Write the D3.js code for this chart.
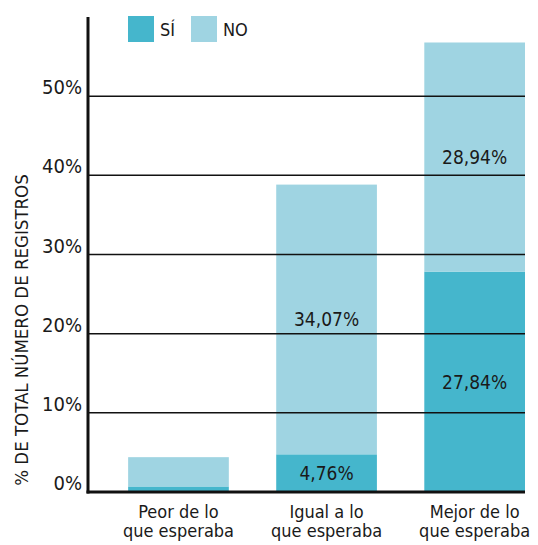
<!DOCTYPE html>
<html>
<head>
<meta charset="utf-8">
<script src="https://cdn.jsdelivr.net/npm/d3@7"></script>
<style>
  body { margin: 0; background: #fff; }
  svg text { font-family: "DejaVu Sans", sans-serif; font-stretch: condensed; fill: #1a1a1a; }
</style>
</head>
<body>
<div id="chart"></div>
<script>
// categories (two lines each) and the two stacked series
let categories = ["Peor de lo|que esperaba", "Igual a lo|que esperaba", "Mejor de lo|que esperaba"];
let siValues = [0.7, 4.76, 27.84];
let noValues = [3.7, 34.07, 28.94];
let siLabels = ["", "4,76%", "27,84%"];
let noLabels = ["", "34,07%", "28,94%"];
let yTicks = [0, 10, 20, 30, 40, 50];
let seriesNames = ["SÍ", "NO"];

drawChart();

function drawChart() {
    let width = 538, height = 545;
    let colors = {"SÍ": "#45b6cc", "NO": "#9fd4e2"};

    let svg = d3.select("#chart").append("svg")
        .attr("width", width)
        .attr("height", height);

    // scales
    let y = d3.scaleLinear().domain([0, 60]).range([492, 17]);
    let x = d3.scaleBand()
        .domain(categories)
        .range([88, 525])
        .paddingInner(0.32)
        .paddingOuter(0.1355)
        .align(1);

    let data = categories.map((c, i) => ({cat: c, "SÍ": siValues[i], "NO": noValues[i],
        siLab: siLabels[i], noLab: noLabels[i]}));
    let stacked = d3.stack().keys(seriesNames)(data);

    // bars
    svg.append("g").selectAll("g")
        .data(stacked)
        .join("g")
        .attr("fill", d => colors[d.key])
        .selectAll("rect")
        .data(d => d)
        .join("rect")
        .attr("x", d => x(d.data.cat))
        .attr("width", x.bandwidth())
        .attr("y", d => y(d[1]))
        .attr("height", d => y(d[0]) - y(d[1]));

    // grid lines (over the bars)
    svg.append("g").selectAll("line")
        .data(yTicks.filter(t => t > 0))
        .join("line")
        .attr("x1", 88).attr("x2", 525)
        .attr("y1", d => y(d)).attr("y2", d => y(d))
        .attr("stroke", "#111")
        .attr("stroke-width", 1.5);

    // baseline + vertical axis
    svg.append("line")
        .attr("x1", 86.5).attr("x2", 525)
        .attr("y1", y(0)).attr("y2", y(0))
        .attr("stroke", "#111").attr("stroke-width", 3);
    svg.append("line")
        .attr("x1", 88).attr("x2", 88)
        .attr("y1", y(60)).attr("y2", y(0) + 1.5)
        .attr("stroke", "#111").attr("stroke-width", 3);

    // y tick labels
    svg.append("g").selectAll("text")
        .data(yTicks)
        .join("text")
        .attr("x", 82)
        .attr("y", d => y(d) - 2)
        .attr("text-anchor", "end")
        .attr("font-size", 20)
        .text(d => d + "%");

    // y axis title
    svg.append("text")
        .attr("transform", "translate(28," + (y(0) - 162) + ") rotate(-90)")
        .attr("text-anchor", "middle")
        .attr("font-size", 18.5)
        .text("% DE TOTAL NÚMERO DE REGISTROS");

    // value labels
    let labels = svg.append("g").attr("font-size", 19).attr("text-anchor", "middle");
    data.forEach(function(d) {
        let cx = x(d.cat) + x.bandwidth() / 2;
        if (d.siLab !== "") {
            labels.append("text")
                .attr("x", cx)
                .attr("y", (y(0) + y(d["SÍ"])) / 2 + 7)
                .text(d.siLab);
        }
        if (d.noLab !== "") {
            labels.append("text")
                .attr("x", cx)
                .attr("y", (y(d["SÍ"]) + y(d["SÍ"] + d["NO"])) / 2 + 7)
                .text(d.noLab);
        }
    });

    // x labels
    let xl = svg.append("g").attr("font-size", 18).attr("text-anchor", "middle");
    categories.forEach(function(c) {
        let t = xl.append("text")
            .attr("x", x(c) + x.bandwidth() / 2)
            .attr("y", 518);
        c.split("|").forEach(function(line, i) {
            t.append("tspan")
                .attr("x", x(c) + x.bandwidth() / 2)
                .attr("dy", i === 0 ? 0 : 19)
                .text(line);
        });
    });

    // legend
    let legend = svg.append("g").selectAll("g")
        .data(seriesNames)
        .join("g")
        .attr("transform", (d, i) => "translate(" + (128 + i * 63) + ",16)");
    legend.append("rect")
        .attr("width", 26).attr("height", 26)
        .attr("fill", d => colors[d]);
    legend.append("text")
        .attr("x", 32).attr("y", 20)
        .attr("font-size", 18)
        .text(d => d);
}
</script>
</body>
</html>
